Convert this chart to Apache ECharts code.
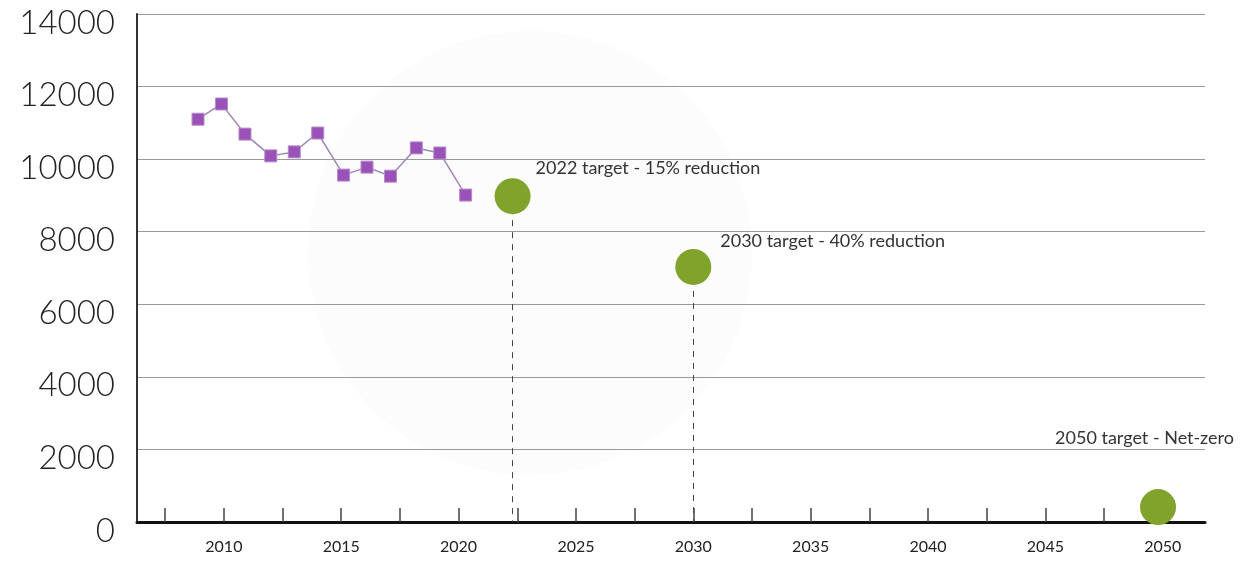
<!DOCTYPE html>
<html>
<head>
<meta charset="utf-8">
<script src="https://cdn.jsdelivr.net/npm/echarts@6/dist/echarts.min.js"></script>
<style>
html,body{margin:0;padding:0;background:#fff;}
#chart{width:1258px;height:561px;}
</style>
</head>
<body>
<div id="chart"></div>
<script>
// Historical emissions (years)
const histYears = [2008.9, 2009.9, 2010.9, 2012.0, 2013.0, 2014.0, 2015.1, 2016.1, 2017.1, 2018.2, 2019.2, 2020.3];
const histValues = [11100, 11520, 10690, 10090, 10200, 10720, 9560, 9780, 9530, 10310, 10170, 9010];
// Targets
const targetYears = [2022.3, 2030.0, 2049.8];
const targetValues = [8980, 7030, 410];
const targetLabels = ['2022 target - 15% reduction', '2030 target - 40% reduction', '2050 target - Net-zero'];
// Axis ticks / labels
const xTickValues = [2007.5, 2010, 2012.5, 2015, 2017.5, 2020, 2022.5, 2025, 2027.5, 2030, 2032.5, 2035, 2037.5, 2040, 2042.5, 2045, 2047.5, 2050];
const xLabelValues = [2010, 2015, 2020, 2025, 2030, 2035, 2040, 2045, 2050];
const yTicks = [0, 2000, 4000, 6000, 8000, 10000, 12000, 14000];

const labelOffsets = [[0, -28], [4, -26], [-126, -69]];

const chart = echarts.init(document.getElementById('chart'));
chart.setOption({
  animation: false,
  backgroundColor: '#ffffff',
  graphic: [{
    type: 'circle', z: -10, silent: true,
    shape: { cx: 530, cy: 253, r: 222 },
    style: { fill: '#fcfcfc' }
  }],
  grid: { left: 137, right: 53, top: 14, bottom: 39, containLabel: false },
  xAxis: {
    type: 'value', min: 2006.3, max: 2051.8,
    axisLine: { show: true, lineStyle: { color: '#111', width: 3 } },
    axisTick: { show: true, inside: true, length: 14, customValues: xTickValues, lineStyle: { color: '#444', width: 1.5 } },
    axisLabel: { show: true, customValues: xLabelValues, margin: 17, color: '#222', fontSize: 16, fontFamily: 'Lato', formatter: v => String(Math.round(v)) },
    splitLine: { show: false }
  },
  yAxis: {
    type: 'value', min: yTicks[0], max: yTicks[yTicks.length - 1], interval: 2000,
    axisLine: { show: true, lineStyle: { color: '#333', width: 2 } },
    axisTick: { show: false },
    axisLabel: { margin: 22, color: '#222', fontSize: 33, fontWeight: 300, fontFamily: 'Lato', verticalAlign: 'top', lineHeight: 18, formatter: v => String(v) },
    splitLine: { show: true, lineStyle: { color: '#999', width: 1 } }
  },
  series: [
    {
      type: 'line', z: 3,
      data: histYears.map((x, i) => [x, histValues[i]]),
      symbol: 'rect', symbolSize: 12,
      itemStyle: { color: '#9a52b8', borderColor: '#b48cc8', borderWidth: 1 },
      lineStyle: { color: '#9f86b5', width: 1.5 }
    },
    {
      type: 'scatter', z: 4,
      symbol: 'circle', symbolSize: 36,
      itemStyle: { color: '#7fa32b', opacity: 1 },
      data: targetYears.map((x, i) => ({
        value: [x, targetValues[i]],
        label: {
          show: true, position: 'right', distance: 5, offset: labelOffsets[i],
          formatter: targetLabels[i], color: '#333', fontSize: 18, fontFamily: 'Lato'
        }
      })),
      markLine: {
        silent: true, symbol: ['none', 'none'], z: 1,
        label: { show: false },
        lineStyle: { color: '#444', type: [6, 6], width: 1 },
        data: targetYears.map((x, i) => [{ coord: [x, targetValues[i]] }, { coord: [x, 0] }])
      }
    }
  ]
});
</script>
</body>
</html>
